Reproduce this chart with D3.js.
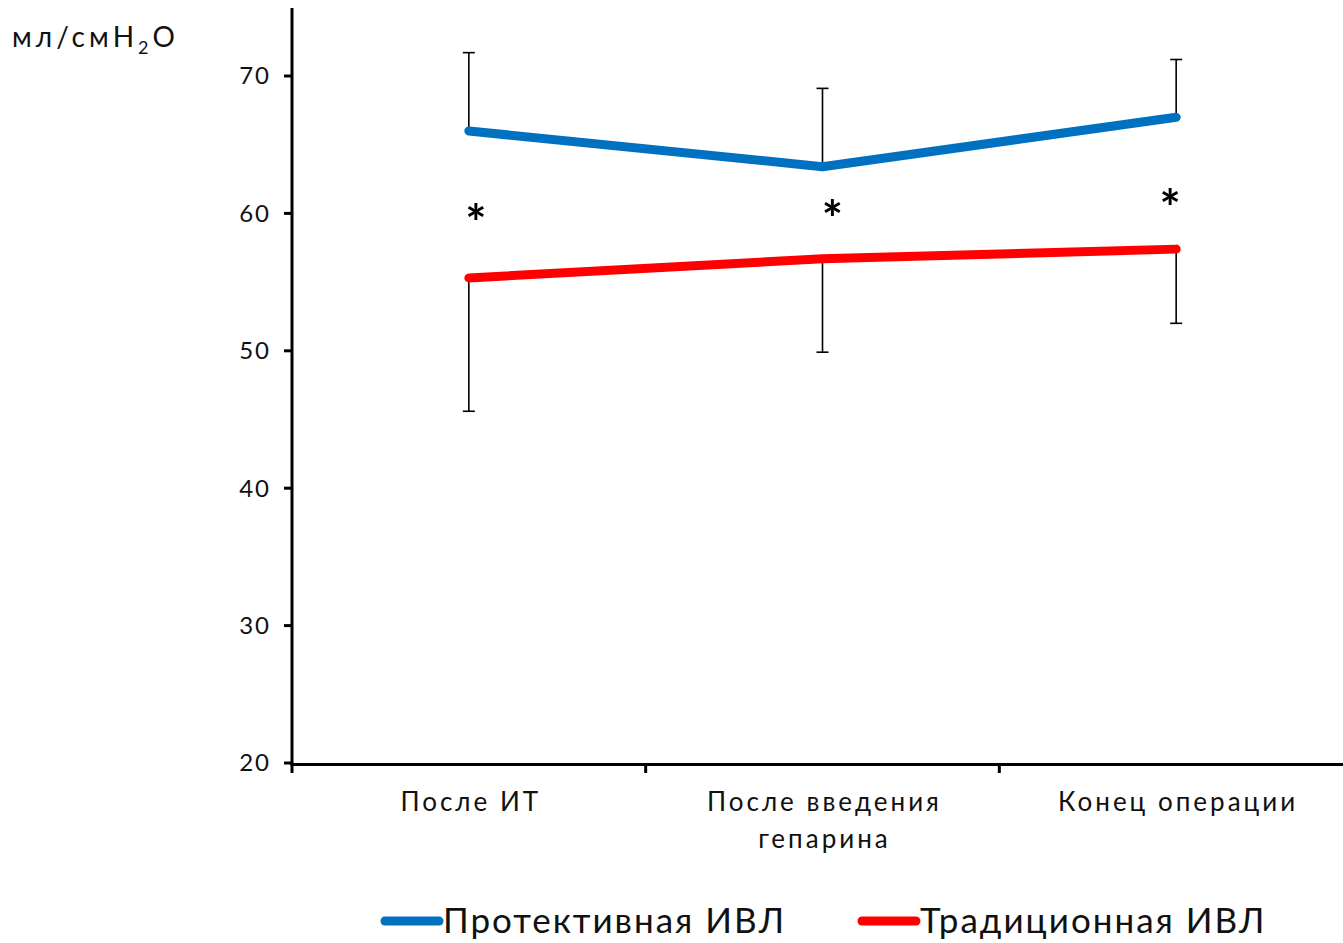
<!DOCTYPE html>
<html><head><meta charset="utf-8">
<script src="https://cdn.jsdelivr.net/npm/d3@7/dist/d3.min.js"></script>
<style>body{margin:0;background:#fff}svg{display:block}text{font-family:"Lato","Noto Sans",sans-serif;fill:#111}</style>
</head><body><svg id="c" width="1343" height="943"></svg>
<script>
const categories = [["После ИТ"], ["После введения", "гепарина"], ["Конец операции"]];
const yTicks = [20, 30, 40, 50, 60, 70];
const protective = [66.0, 63.4, 67.0];
const protectiveErrUp = [71.7, 69.1, 71.2];
const traditional = [55.3, 56.7, 57.4];
const traditionalErrDown = [45.6, 49.9, 52.0];
const starY = [59.9, 60.2, 61.0];
const seriesNames = ["Протективная ИВЛ", "Традиционная ИВЛ"];
const colors = ["#0070C0", "#FF0000"];

const svg = d3.select("#c");
const x = d3.scaleBand().domain(d3.range(3)).range([292, 1353]).paddingInner(0).paddingOuter(0);
const y = d3.scaleLinear().domain([20, 70]).range([763, 76]);
const cx = i => x(i) + x.bandwidth() / 2;

// Y axis
const ya = svg.append("g").attr("transform", "translate(292,0)");
ya.append("line").attr("x1", 0).attr("x2", 0).attr("y1", 8).attr("y2", 766).attr("stroke", "#000").attr("stroke-width", 3);
yTicks.forEach(t => {
  ya.append("line").attr("x1", -8).attr("x2", 0).attr("y1", y(t)).attr("y2", y(t)).attr("stroke", "#000").attr("stroke-width", 3);
  ya.append("text").attr("x", -21).attr("y", y(t)).attr("dy", "0.35em").attr("text-anchor", "end").attr("font-size", 24).attr("letter-spacing", 2).text(t);
});

// X axis
const xa = svg.append("g");
xa.append("line").attr("x1", 291).attr("x2", 1343).attr("y1", 764.5).attr("y2", 764.5).attr("stroke", "#000").attr("stroke-width", 3);
[0, 1, 2, 3].forEach(i => {
  const px = i < 3 ? x(i) : x(2) + x.bandwidth();
  xa.append("line").attr("x1", px).attr("x2", px).attr("y1", 764).attr("y2", 773).attr("stroke", "#000").attr("stroke-width", 3);
});
categories.forEach((lines, i) => {
  lines.forEach((l, j) => {
    xa.append("text").attr("x", cx(i) + 2).attr("y", 811 + j * 37).attr("text-anchor", "middle").attr("font-size", 26).attr("letter-spacing", 3).text(l);
  });
});

// Error bars
function errBar(i, v0, v1) {
  const g = svg.append("g").attr("stroke", "#000").attr("stroke-width", 1.6);
  g.append("line").attr("x1", cx(i)).attr("x2", cx(i)).attr("y1", y(v0)).attr("y2", y(v1));
  g.append("line").attr("x1", cx(i) - 6).attr("x2", cx(i) + 6).attr("y1", y(v1)).attr("y2", y(v1));
}
protective.forEach((v, i) => errBar(i, v, protectiveErrUp[i]));
traditional.forEach((v, i) => errBar(i, v, traditionalErrDown[i]));

// Lines
const line = d3.line().x((d, i) => cx(i)).y(d => y(d));
[protective, traditional].forEach((s, k) => {
  svg.append("path").attr("d", line(s)).attr("fill", "none").attr("stroke", colors[k]).attr("stroke-width", 9).attr("stroke-linecap", "round").attr("stroke-linejoin", "round");
});

// Asterisks
const starDx = [7, 10, -6];
starY.forEach((v, i) => {
  svg.append("text").attr("x", cx(i) + starDx[i]).attr("y", y(v) + 26).attr("text-anchor", "middle").attr("font-size", 50).attr("font-weight", "bold").attr("font-family", "DejaVu Sans").style("fill", "#000").text("*");
});

// Y label
const yl = svg.append("text").attr("x", 12).attr("y", 47).attr("font-size", 28).attr("letter-spacing", 4);
yl.append("tspan").text("мл/смH");
yl.append("tspan").attr("font-size", 18).attr("dy", 7).text("2");
yl.append("tspan").attr("dy", -7).text("O");

// Legend
const legX = [385, 862];
seriesNames.forEach((n, k) => {
  svg.append("line").attr("x1", legX[k]).attr("x2", legX[k] + 54).attr("y1", 921).attr("y2", 921).attr("stroke", colors[k]).attr("stroke-width", 9).attr("stroke-linecap", "round");
  svg.append("text").attr("x", legX[k] + 58).attr("y", 933).attr("font-size", 35).attr("letter-spacing", 2).text(n);
});
</script></body></html>
